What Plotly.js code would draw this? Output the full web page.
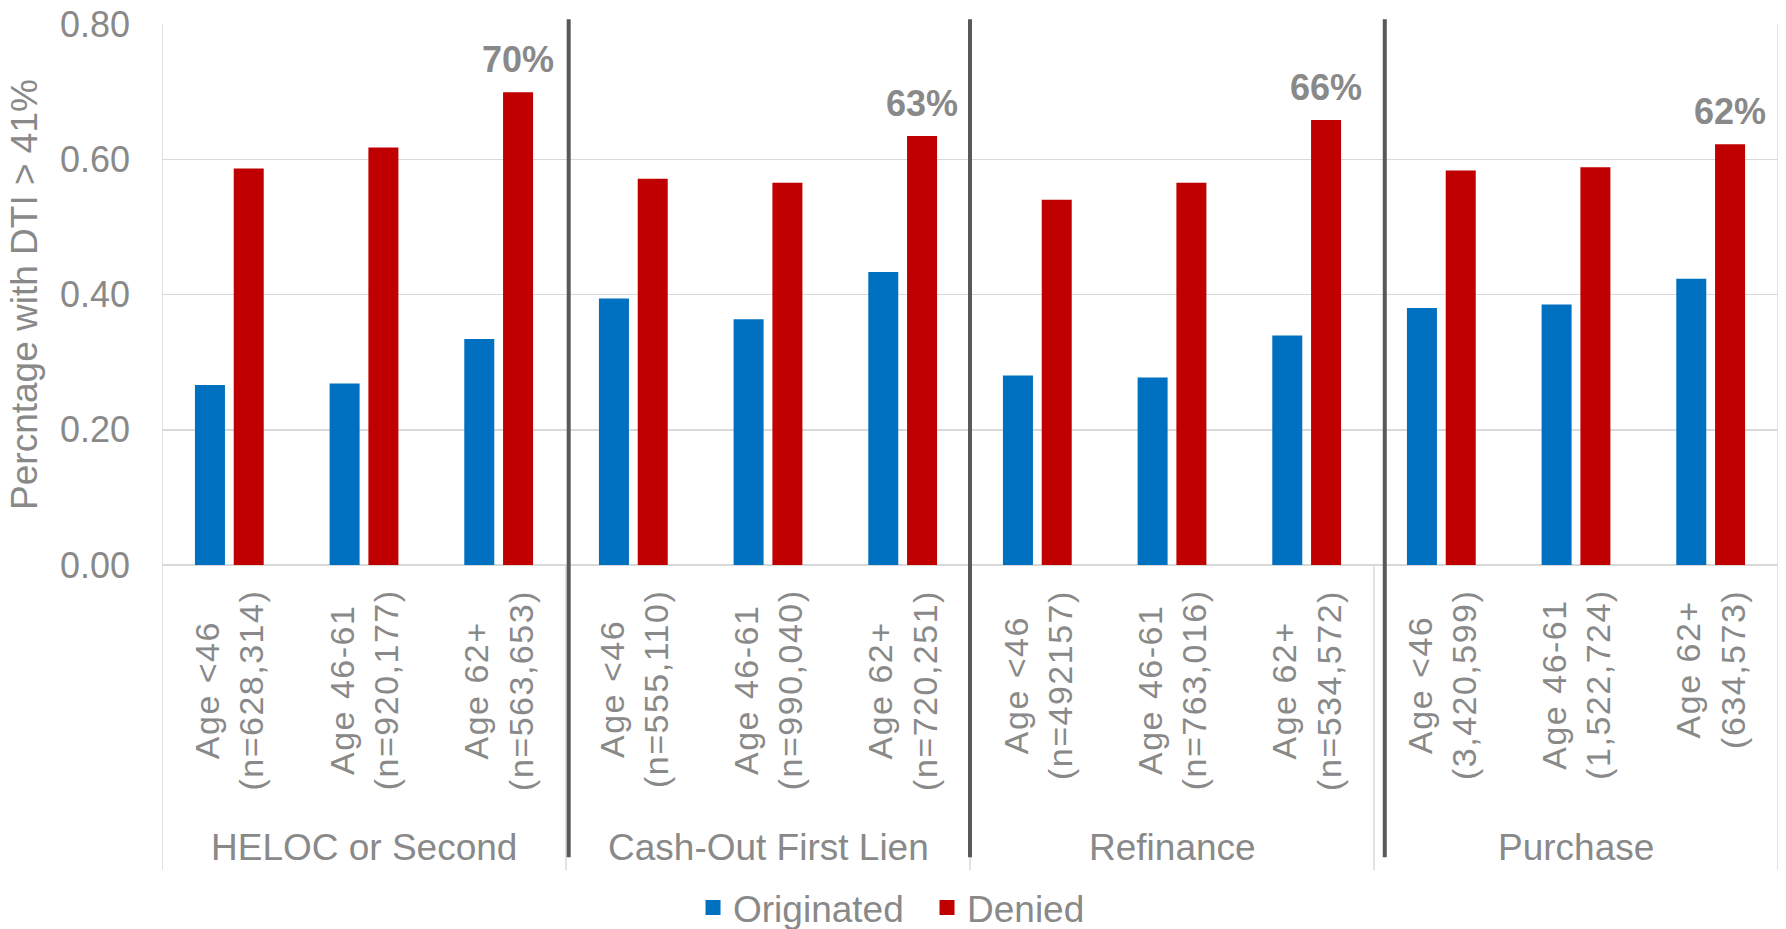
<!DOCTYPE html>
<html>
<head>
<meta charset="utf-8">
<script src="https://cdn.plot.ly/plotly-3.0.1.min.js"></script>
<style>
  html, body { margin: 0; padding: 0; background: #ffffff; }
  #chart { width: 1786px; height: 929px; }
</style>
</head>
<body>
<div id="chart"></div>
<script>
// ---- Data ----
const categories = [
  'Age <46<br>(n=628,314)', 'Age 46-61<br>(n=920,177)', 'Age 62+<br>(n=563,653)',
  'Age <46<br>(n=555,110)', 'Age 46-61<br>(n=990,040)', 'Age 62+<br>(n=720,251)',
  'Age <46<br>(n=492157)',  'Age 46-61<br>(n=763,016)', 'Age 62+<br>(n=534,572)',
  'Age <46<br>(3,420,599)', 'Age 46-61<br>(1,522,724)', 'Age 62+<br>(634,573)'
];
const groups = ['HELOC or Second', 'Cash-Out First Lien', 'Refinance', 'Purchase'];
const groupCenters = [categories[1], categories[4], categories[7], categories[10]];
const originated = [0.264, 0.266, 0.332, 0.392, 0.361, 0.431, 0.278, 0.275, 0.337, 0.378, 0.383, 0.421];
const denied     = [0.584, 0.615, 0.697, 0.569, 0.563, 0.632, 0.538, 0.563, 0.656, 0.581, 0.586, 0.620];
const peakLabels = ['', '', '70%', '', '', '63%', '', '', '66%', '', '', '62%'];
const seriesNames = ['Originated', 'Denied'];
const yTicks = [0, 0.2, 0.4, 0.6, 0.8];
const yTitle = 'Percntage with DTI > 41%';

// ---- Styles ----
const FONT = '"Liberation Sans", Arial, Helvetica, sans-serif';
const GRAY = '#898989';
const BLUE = '#0070C0';
const RED = '#C00000';
const LIGHT = '#d9d9d9';
const DARK = '#595959';

function spaced(label) {
  return label.split('<br>')
    .map(l => '<span style="letter-spacing:1.5px">' + l + '</span>')
    .join('<br>');
}

const traces = [
  { type: 'bar', name: seriesNames[0], x: categories, y: originated,
    marker: { color: BLUE, line: { color: BLUE, width: 3 } }, hoverinfo: 'x+y' },
  { type: 'bar', name: seriesNames[1], x: categories, y: denied,
    marker: { color: RED, line: { color: RED, width: 3 } }, hoverinfo: 'x+y' }
];

const annotations = [];
// category labels (rotated, centered lines)
categories.forEach(c => {
  annotations.push({
    x: c, xref: 'x', y: -0.042, yref: 'paper',
    text: spaced(c), showarrow: false, textangle: -90,
    xanchor: 'center', yanchor: 'top', align: 'center',
    font: { family: FONT, size: 34, color: GRAY }
  });
});
// group labels
groups.forEach((g, i) => {
  annotations.push({
    x: groupCenters[i], xref: 'x', y: -0.523, yref: 'paper',
    text: g, showarrow: false, xanchor: 'center', yanchor: 'middle',
    font: { family: FONT, size: 37, color: GRAY }
  });
});
// peak labels above denied bars
peakLabels.forEach((t, i) => {
  if (!t) return;
  annotations.push({
    x: categories[i], xref: 'x', y: denied[i], yref: 'y',
    text: '<b>' + t + '</b>', showarrow: false,
    xanchor: 'center', yanchor: 'middle', xshift: 19, yshift: 34,
    font: { family: FONT, size: 36, color: GRAY }
  });
});

const shapes = [];
// thin frame / divider lines
[-0.5, 11.5].forEach(x => shapes.push({
  type: 'line', xref: 'x', yref: 'paper', x0: x, x1: x, y0: 1, y1: -0.564,
  line: { color: LIGHT, width: 1.5 }, layer: 'below'
}));
[2.5, 5.5, 8.5].forEach(x => shapes.push({
  type: 'line', xref: 'x', yref: 'paper', x0: x, x1: x, y0: 0, y1: -0.564,
  line: { color: LIGHT, width: 1.5 }, layer: 'below'
}));
// thick separators
[2.52, 5.5, 8.58].forEach(x => shapes.push({
  type: 'line', xref: 'x', yref: 'paper', x0: x, x1: x, y0: 1.009, y1: -0.540,
  line: { color: DARK, width: 4 }, layer: 'above'
}));

const layout = {
  width: 1786, height: 929,
  margin: { l: 162, r: 8, t: 24, b: 364, autoexpand: false },
  paper_bgcolor: '#ffffff', plot_bgcolor: '#ffffff',
  font: { family: FONT, color: GRAY, size: 34 },
  barmode: 'group', bargap: 0.424, bargroupgap: 0.304,
  showlegend: true,
  legend: {
    orientation: 'h', x: 0.3286, xanchor: 'left', y: -0.634, yanchor: 'middle',
    font: { family: FONT, size: 37, color: GRAY }, itemwidth: 30,
    entrywidth: 189, entrywidthmode: 'pixels',
    bgcolor: 'rgba(0,0,0,0)'
  },
  xaxis: {
    type: 'category', categoryorder: 'array', categoryarray: categories,
    showticklabels: false, ticks: '', showgrid: false, zeroline: false,
    showline: false, range: [-0.5, 11.5], fixedrange: true
  },
  yaxis: {
    range: [0, 0.8], tickvals: yTicks, tickformat: '.2f',
    showgrid: true, gridcolor: LIGHT, gridwidth: 1.5,
    zeroline: true, zerolinecolor: LIGHT, zerolinewidth: 1.5,
    showline: false, ticks: '', ticklabelstandoff: 31,
    tickfont: { family: FONT, size: 36, color: GRAY },
    title: { text: yTitle, font: { family: FONT, size: 37, color: GRAY }, standoff: 10 },
    automargin: false, fixedrange: true
  },
  annotations: annotations,
  shapes: shapes
};

Plotly.newPlot('chart', traces, layout, { displayModeBar: false, staticPlot: true });
</script>
</body>
</html>
